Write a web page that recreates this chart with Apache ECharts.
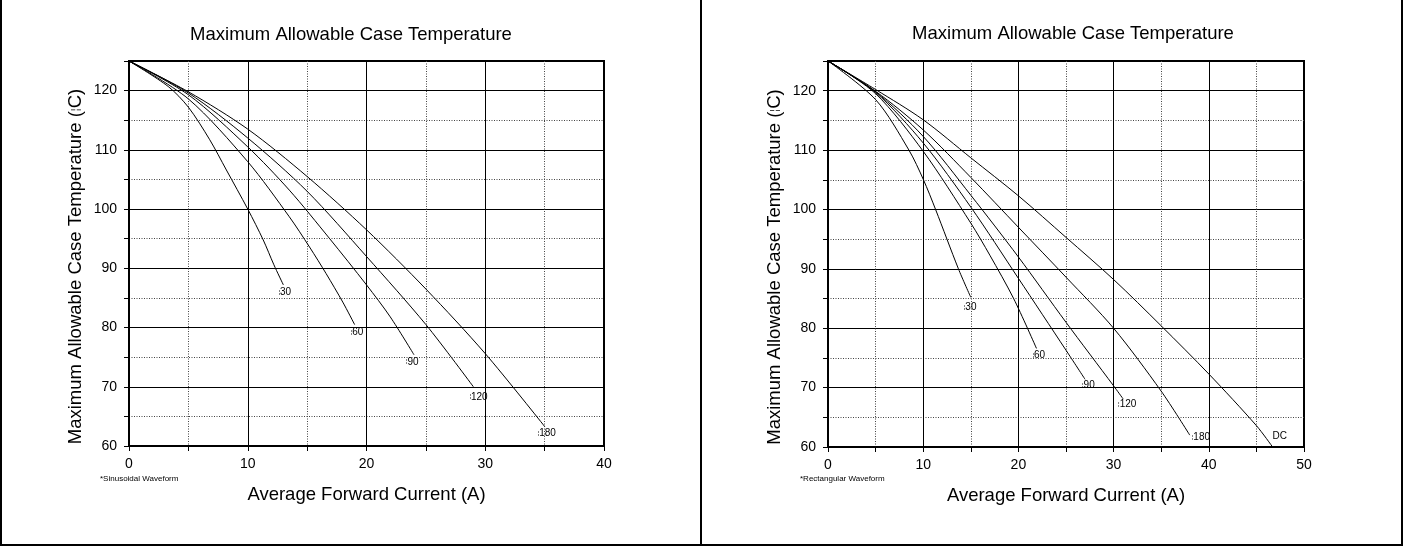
<!DOCTYPE html>
<html>
<head>
<meta charset="utf-8">
<script src="https://cdn.jsdelivr.net/npm/echarts@6/dist/echarts.min.js"></script>
<style>
    html, body { margin: 0; padding: 0; background: #fff; }
    #chart { width: 1403px; height: 546px; }
</style>
</head>
<body>
<div id="chart"></div>
<script>
// 正弦波 (左图) 各导通角曲线
const sin30X = [0, 3.3, 5, 6.8, 8.2, 10, 11.3, 12.2, 13];
const sin30Y = [125, 120.7, 117.2, 111.7, 106.6, 100, 94.8, 90.6, 87.2];
const sin60X = [0, 5, 10, 13.5, 15.2, 16.6, 18, 19];
const sin60Y = [125, 118.6, 108, 98.7, 93.6, 89.1, 84.3, 80.5];
const sin90X = [0, 5, 10, 13.5, 16.9, 20, 22, 24];
const sin90Y = [125, 119.3, 110.5, 103.2, 95, 87.2, 81.8, 75.4];
const sin120X = [0, 5, 10, 15, 20, 25, 29];
const sin120Y = [125, 119.6, 112, 103, 92, 80.5, 70];
const sin180X = [0, 5, 10, 15, 20, 25, 30, 35];
const sin180Y = [125, 119.8, 113.5, 105.5, 96.5, 86.5, 75.6, 63.3];

// 矩形波 (右图)
const rect30X = [0, 5, 8.5, 10, 11.3, 13.7, 15];
const rect30Y = [125, 118.5, 110, 105.1, 100, 90, 85.2];
const rect60X = [0, 5, 10, 15, 17, 19.5, 21.9];
const rect60Y = [125, 119.5, 109.8, 97.7, 92.3, 85, 76.6];
const rect90X = [0, 5, 10, 15, 20, 25, 27];
const rect90Y = [125, 119.7, 111.2, 100.4, 88.4, 76.3, 71.4];
const rect120X = [0, 5, 10, 15, 20, 25, 30, 31];
const rect120Y = [125, 119.8, 112.3, 102.4, 92, 81, 70.3, 68.1];
const rect180X = [0, 5, 10, 15, 20, 25, 30, 35, 38];
const rect180Y = [125, 119.9, 113.4, 105.4, 97, 88.6, 80, 69.4, 62];
const rectDcX = [0, 5, 10, 15, 20, 25, 30, 35, 40, 45, 46.7];
const rectDcY = [125, 120.2, 115.1, 108.7, 102.3, 95.3, 88.2, 80.4, 72.3, 63.6, 60];

// 文本
const chartTitle = 'Maximum Allowable Case Temperature';
const xName = 'Average Forward Current (A)';
const yName = 'Maximum Allowable Case Temperature ({m|¦}C)';
const sinNote = '*Sinusoidal Waveform';
const rectNote = '*Rectangular Waveform';

const FONT = '"Liberation Sans", Arial, sans-serif';

// 单条曲线
function curve(xs, ys, axisIdx, text, offset) {
    return {
        type: 'line',
        xAxisIndex: axisIdx,
        yAxisIndex: axisIdx,
        data: xs.map((x, i) => [x, ys[i]]),
        symbol: 'none',
        smooth: 0.3,
        silent: true,
        lineStyle: { color: '#000', width: 1 },
        endLabel: {
            show: true,
            distance: 0,
            offset: offset,
            formatter: text,
            color: '#000',
            fontSize: 10,
            fontFamily: FONT,
            rich: { m: { fontSize: 6, color: '#000', fontFamily: FONT } }
        }
    };
}

// 主坐标轴 (5 间隔, 点线网格, 刻度标签)
function mainX(grid, max) {
    return {
        type: 'value', gridIndex: grid, min: 0, max: max, interval: 5,
        position: 'bottom',
        name: xName, nameLocation: 'middle', nameGap: 39,
        nameTextStyle: { color: '#000', fontSize: 18.5, fontFamily: FONT },
        axisLine: { show: true, onZero: false, lineStyle: { color: '#000', width: 2 } },
        axisTick: { show: true, inside: false, length: 5, lineStyle: { color: '#000', width: 1 } },
        axisLabel: {
            color: '#000', fontSize: 14, fontFamily: FONT, margin: 11,
            formatter: v => (v % 10 === 0 ? v : '')
        },
        splitLine: { show: true, lineStyle: { color: '#444', width: 1, type: [1, 1.5] } }
    };
}

function mainY(grid) {
    return {
        type: 'value', gridIndex: grid, min: 60, max: 125, interval: 5,
        position: 'left',
        name: yName, nameLocation: 'middle', nameGap: 44,
        nameTextStyle: {
            color: '#000', fontSize: 18.5, fontFamily: FONT,
            padding: [0, 26, 0, 0],
            rich: { m: { fontSize: 11, color: '#000', fontFamily: FONT } }
        },
        axisLine: { show: true, onZero: false, lineStyle: { color: '#000', width: 2 } },
        axisTick: { show: true, inside: false, length: 5, lineStyle: { color: '#000', width: 1 } },
        axisLabel: {
            color: '#000', fontSize: 14, fontFamily: FONT, margin: 12,
            formatter: v => (v % 10 === 0 ? v : '')
        },
        splitLine: { show: true, lineStyle: { color: '#444', width: 1, type: [1, 1.5] } }
    };
}

// 辅助坐标轴 (10 间隔, 实线网格)
function majorAxis(grid, min, max, pos) {
    return {
        type: 'value', gridIndex: grid, min: min, max: max, interval: 10,
        position: pos,
        axisLine: { show: false }, axisTick: { show: false }, axisLabel: { show: false },
        splitLine: { show: true, lineStyle: { color: '#000', width: 1 } }
    };
}

const chart = echarts.init(document.getElementById('chart'));
chart.setOption({
    animation: false,
    backgroundColor: '#fff',
    grid: [
        { left: 129, top: 61, width: 475, height: 385, show: true, borderColor: '#000', borderWidth: 2, backgroundColor: 'transparent' },
        { left: 828, top: 61, width: 476, height: 386, show: true, borderColor: '#000', borderWidth: 2, backgroundColor: 'transparent' }
    ],
    xAxis: [
        mainX(0, 40),
        mainX(1, 50),
        majorAxis(0, 0, 40, 'bottom'),
        majorAxis(1, 0, 50, 'bottom')
    ],
    yAxis: [
        mainY(0),
        mainY(1),
        majorAxis(0, 60, 125, 'left'),
        majorAxis(1, 60, 125, 'left')
    ],
    series: [
        // 网格实线
        { type: 'line', xAxisIndex: 2, yAxisIndex: 2, data: [] },
        { type: 'line', xAxisIndex: 3, yAxisIndex: 3, data: [] },

        curve(sin30X, sin30Y, 0, '{m|¦}30', [-5, 7]),
        curve(sin60X, sin60Y, 0, '{m|¦}60', [-4, 8]),
        curve(sin90X, sin90Y, 0, '{m|¦}90', [-8, 7]),
        curve(sin120X, sin120Y, 0, '{m|¦}120', [-4, 10]),
        curve(sin180X, sin180Y, 0, '{m|¦}180', [-7, 7]),

        curve(rect30X, rect30Y, 1, '{m|¦}30', [-7, 10]),
        curve(rect60X, rect60Y, 1, '{m|¦}60', [-4, 7]),
        curve(rect90X, rect90Y, 1, '{m|¦}90', [-3, 6]),
        curve(rect120X, rect120Y, 1, '{m|¦}120', [-5, 5]),
        curve(rect180X, rect180Y, 1, '{m|¦}180', [2, 2]),
        curve(rectDcX, rectDcY, 1, 'DC', [0, -11])
    ],
    graphic: [
        // 标题
        { type: 'text', x: 351, y: 35, style: { text: chartTitle, fill: '#000', font: '18.5px ' + FONT, textAlign: 'center', textVerticalAlign: 'middle' } },
        { type: 'text', x: 1073, y: 34, style: { text: chartTitle, fill: '#000', font: '18.5px ' + FONT, textAlign: 'center', textVerticalAlign: 'middle' } },
        // 波形注释
        { type: 'text', x: 100, y: 479, style: { text: sinNote, fill: '#000', font: '8px ' + FONT, textVerticalAlign: 'middle' } },
        { type: 'text', x: 800, y: 479, style: { text: rectNote, fill: '#000', font: '8px ' + FONT, textVerticalAlign: 'middle' } },
        // 外框
        { type: 'line', shape: { x1: 1, y1: 0, x2: 1, y2: 546 }, style: { stroke: '#000', lineWidth: 2 } },
        { type: 'line', shape: { x1: 0, y1: 545, x2: 1403, y2: 545 }, style: { stroke: '#000', lineWidth: 2 } },
        { type: 'line', shape: { x1: 701, y1: 0, x2: 701, y2: 546 }, style: { stroke: '#000', lineWidth: 2 } },
        { type: 'line', shape: { x1: 1402, y1: 0, x2: 1402, y2: 546 }, style: { stroke: '#000', lineWidth: 2 } }
    ]
});

window.addEventListener('resize', function() {
    chart.resize();
});
</script>
</body>
</html>
